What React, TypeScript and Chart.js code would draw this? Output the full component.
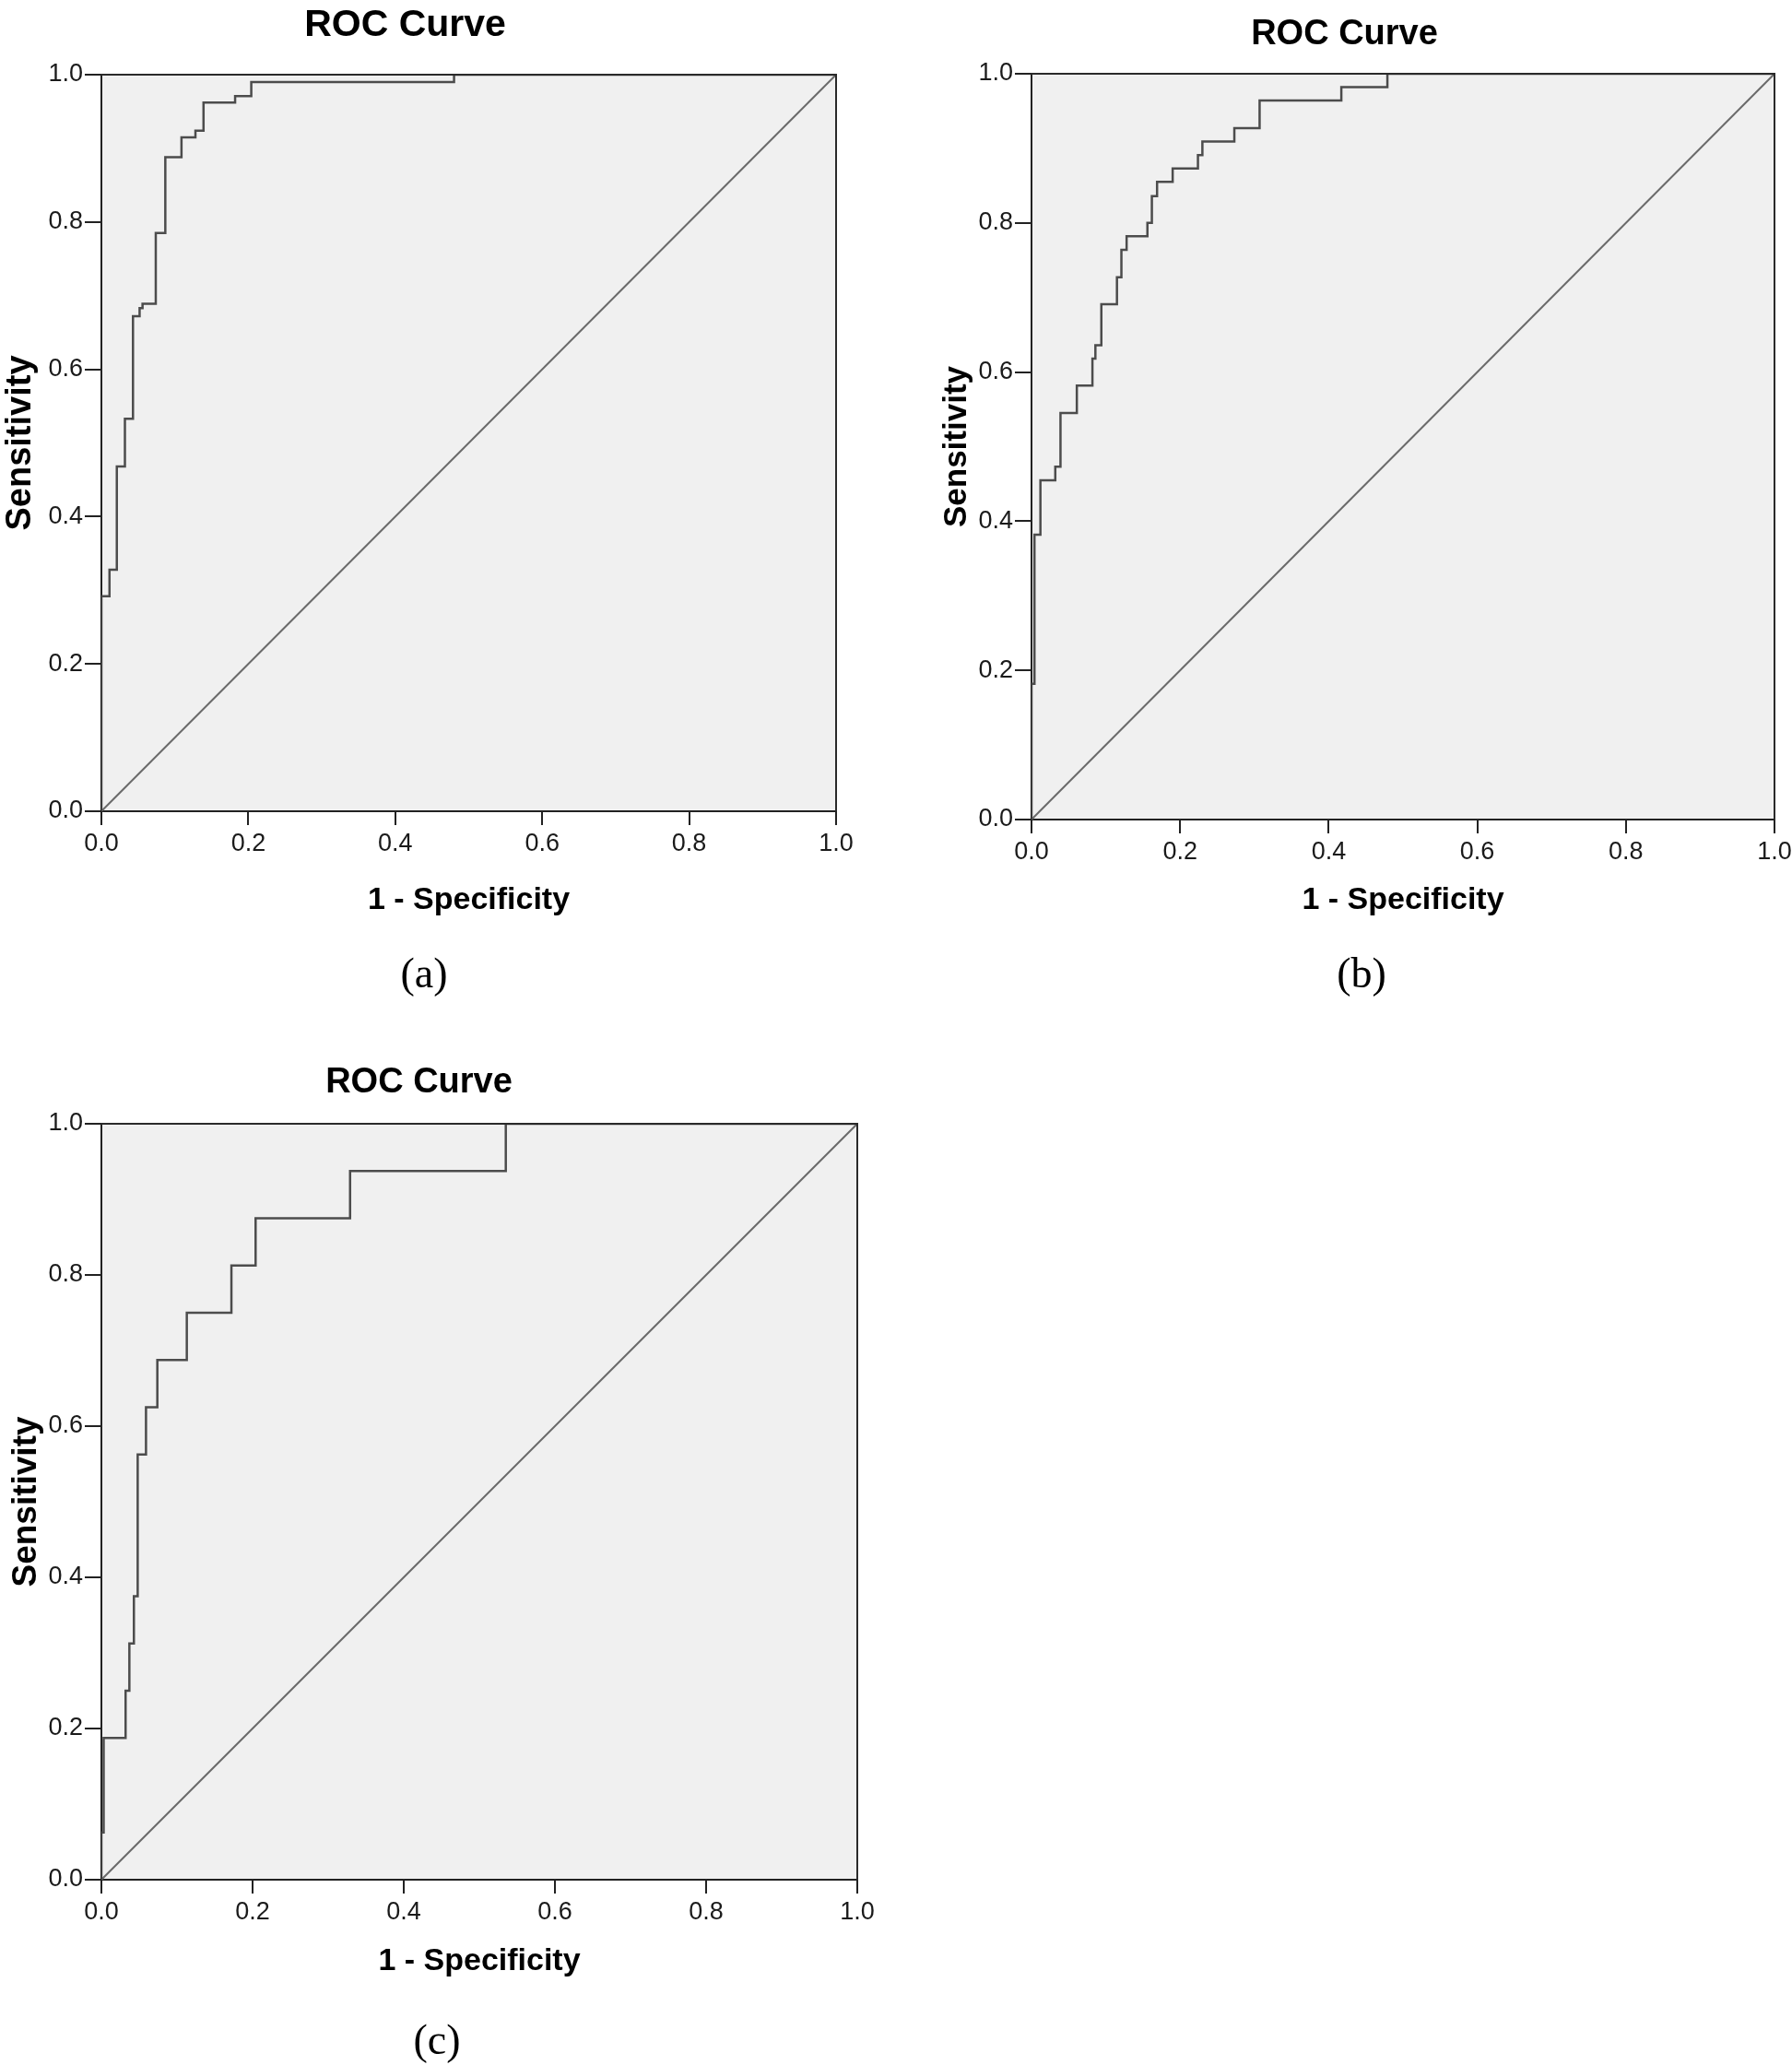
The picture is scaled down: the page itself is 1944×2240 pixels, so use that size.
import React, { useEffect, useRef } from 'react';
import { Chart, registerables } from 'chart.js';

Chart.register(...registerables);

// ---------- text ----------
const chartTitle = 'ROC Curve';
const xAxisTitle = '1 - Specificity';
const yAxisTitle = 'Sensitivity';
const panelCaptions = ['(a)', '(b)', '(c)'];

// ---------- ticks ----------
const axisTicks = [0, 0.2, 0.4, 0.6, 0.8, 1.0];

// ---------- reference (chance) line ----------
const chanceLine = [0, 1];

// ---------- ROC coordinates (1 - specificity, sensitivity) ----------
const rocA_fpr = [0, 0, 0.011, 0.021, 0.032, 0.043, 0.052, 0.056, 0.074, 0.087, 0.109, 0.128, 0.139, 0.182, 0.204, 0.48, 1];
const rocA_tpr = [0, 0.292, 0.328, 0.468, 0.533, 0.672, 0.683, 0.689, 0.785, 0.888, 0.915, 0.924, 0.962, 0.971, 0.99, 1, 1];

const rocB_fpr = [0, 0, 0.004, 0.012, 0.032, 0.039, 0.061, 0.082, 0.086, 0.094, 0.115, 0.121, 0.128, 0.156, 0.162, 0.169, 0.19, 0.224, 0.23, 0.273, 0.307, 0.417, 0.479, 1];
const rocB_tpr = [0, 0.182, 0.382, 0.455, 0.473, 0.545, 0.582, 0.618, 0.636, 0.691, 0.727, 0.764, 0.782, 0.8, 0.836, 0.855, 0.873, 0.891, 0.909, 0.927, 0.964, 0.982, 1, 1];

const rocC_fpr = [0, 0, 0.003, 0.032, 0.037, 0.043, 0.048, 0.059, 0.074, 0.113, 0.172, 0.204, 0.329, 0.535, 1];
const rocC_tpr = [0, 0.0625, 0.1875, 0.25, 0.3125, 0.375, 0.5625, 0.625, 0.6875, 0.75, 0.8125, 0.875, 0.9375, 1, 1];

// ---------- layout of the three panels (page pixels) ----------
type PanelSpec = {
  fpr: number[];
  tpr: number[];
  caption: string;
  left: number; top: number; width: number; height: number;
  padTop: number; padRight: number; padBottom: number;
  yAxisW: number; xAxisH: number;
  yTitleSize: number; yTitlePad: number;
  xTitlePadB: number;
  titleSize: number; titleX: number; titleBaseline: number;
  capX: number; capBaseline: number;
};

const panels: PanelSpec[] = [
  {
    fpr: rocA_fpr, tpr: rocA_tpr, caption: panelCaptions[0],
    left: 0, top: 0, width: 960, height: 1100,
    padTop: 81, padRight: 53, padBottom: 100,
    yAxisW: 110, xAxisH: 120,
    yTitleSize: 38, yTitlePad: 0,
    xTitlePadB: 2.6,
    titleSize: 41, titleX: 439.5, titleBaseline: 38.5,
    capX: 460, capBaseline: 1071,
  },
  {
    fpr: rocB_fpr, tpr: rocB_tpr, caption: panelCaptions[1],
    left: 972, top: 0, width: 972, height: 1100,
    padTop: 80, padRight: 19, padBottom: 100,
    yAxisW: 147, xAxisH: 111,
    yTitleSize: 35, yTitlePad: 45.5,
    xTitlePadB: 2.6,
    titleSize: 38, titleX: 486.5, titleBaseline: 48,
    capX: 505, capBaseline: 1071,
  },
  {
    fpr: rocC_fpr, tpr: rocC_tpr, caption: panelCaptions[2],
    left: 0, top: 1130, width: 960, height: 1110,
    padTop: 89, padRight: 30, padBottom: 81,
    yAxisW: 110, xAxisH: 120,
    yTitleSize: 37, yTitlePad: 6.4,
    xTitlePadB: 10.6,
    titleSize: 38, titleX: 454.5, titleBaseline: 55,
    capX: 474, capBaseline: 1098,
  },
];

const SANS = "'Liberation Sans', Arial, sans-serif";
const SERIF = "'Liberation Serif', 'Times New Roman', serif";

function RocPanel({ spec }: { spec: PanelSpec }) {
  const ref = useRef<HTMLCanvasElement>(null);

  useEffect(() => {
    const canvas = ref.current;
    if (!canvas) return;
    const s = spec;

    const framePlugin = {
      id: 'rocFrame',
      beforeDraw(chart: any) {
        const { ctx, chartArea: a } = chart;
        ctx.save();
        ctx.fillStyle = '#f0f0f0';
        ctx.fillRect(a.left, a.top, a.right - a.left, a.bottom - a.top);
        ctx.restore();
      },
      afterDatasetsDraw(chart: any) {
        const { ctx, chartArea: a } = chart;
        ctx.save();
        ctx.strokeStyle = '#2a2a2a';
        ctx.lineWidth = 2;
        ctx.beginPath();
        ctx.moveTo(a.left, a.top);
        ctx.lineTo(a.right, a.top);
        ctx.lineTo(a.right, a.bottom);
        ctx.stroke();
        ctx.restore();
      },
      afterDraw(chart: any) {
        const { ctx } = chart;
        ctx.save();
        ctx.fillStyle = '#000';
        ctx.textAlign = 'center';
        ctx.textBaseline = 'alphabetic';
        ctx.font = `bold ${s.titleSize}px ${SANS}`;
        ctx.fillText(chartTitle, s.titleX, s.titleBaseline);
        ctx.font = `normal 46px ${SERIF}`;
        ctx.fillText(s.caption, s.capX, s.capBaseline);
        ctx.restore();
      },
    };

    const tickCallback = (v: any) => Number(v).toFixed(1);
    const setTicks = (sc: any) => {
      sc.ticks = axisTicks.map((v) => ({ value: v }));
    };

    const chart = new Chart(canvas, {
      type: 'scatter',
      data: {
        datasets: [
          {
            label: 'ROC',
            data: s.fpr.map((x, i) => ({ x, y: s.tpr[i] })),
            showLine: true,
            stepped: 'before',
            borderColor: '#4c4c4c',
            borderWidth: 2.5,
            pointRadius: 0,
            fill: false,
          } as any,
          {
            label: 'Reference',
            data: chanceLine.map((v) => ({ x: v, y: v })),
            showLine: true,
            borderColor: '#6a6a6a',
            borderWidth: 2,
            pointRadius: 0,
            fill: false,
          } as any,
        ],
      },
      options: {
        responsive: false,
        animation: false,
        events: [],
        layout: {
          padding: { left: 0, top: s.padTop, right: s.padRight, bottom: s.padBottom },
        },
        plugins: {
          legend: { display: false },
          tooltip: { enabled: false },
          title: { display: false },
        },
        scales: {
          x: {
            type: 'linear',
            min: 0,
            max: 1,
            afterBuildTicks: setTicks,
            afterFit: (sc: any) => {
              sc.height = s.xAxisH;
              sc.paddingLeft = 0;
              sc.paddingRight = 0;
            },
            ticks: {
              callback: tickCallback,
              font: { family: SANS, size: 27 },
              color: '#1a1a1a',
              padding: 4,
              maxRotation: 0,
              autoSkip: false,
            },
            grid: {
              display: true,
              drawOnChartArea: false,
              drawTicks: true,
              tickLength: 15,
              color: '#222',
              lineWidth: 2,
            },
            border: { display: true, color: '#222', width: 2 },
            title: {
              display: true,
              text: xAxisTitle,
              color: '#000',
              font: { family: SANS, size: 34, weight: 'bold', lineHeight: 1.2 },
              padding: { top: 0, bottom: s.xTitlePadB },
            },
          },
          y: {
            type: 'linear',
            min: 0,
            max: 1,
            afterBuildTicks: setTicks,
            afterFit: (sc: any) => {
              sc.width = s.yAxisW;
              sc.paddingTop = 0;
              sc.paddingBottom = 0;
            },
            ticks: {
              callback: tickCallback,
              font: { family: SANS, size: 27 },
              color: '#1a1a1a',
              padding: 2,
              autoSkip: false,
            },
            grid: {
              display: true,
              drawOnChartArea: false,
              drawTicks: true,
              tickLength: 18,
              color: '#222',
              lineWidth: 2,
            },
            border: { display: true, color: '#222', width: 2 },
            title: {
              display: true,
              text: yAxisTitle,
              color: '#000',
              font: { family: SANS, size: s.yTitleSize, weight: 'bold', lineHeight: 1.2 },
              padding: { top: s.yTitlePad, bottom: 0 },
            },
          },
        },
      } as any,
      plugins: [framePlugin],
    });

    return () => chart.destroy();
  }, [spec]);

  return (
    <canvas
      ref={ref}
      width={spec.width}
      height={spec.height}
      style={{
        position: 'absolute',
        left: spec.left,
        top: spec.top,
        width: spec.width,
        height: spec.height,
      }}
    />
  );
}

export default function App() {
  return (
    <div
      style={{
        position: 'absolute',
        left: 0,
        top: 0,
        width: 1944,
        height: 2240,
        background: '#ffffff',
        overflow: 'hidden',
      }}
    >
      {panels.map((p, i) => (
        <RocPanel key={i} spec={p} />
      ))}
    </div>
  );
}
